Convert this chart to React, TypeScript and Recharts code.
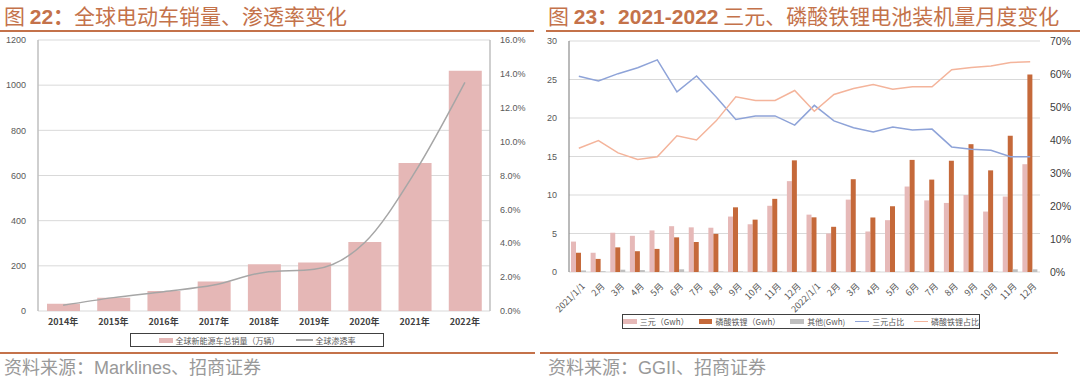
import React from 'react';
import { ComposedChart, Bar, Line, XAxis, YAxis, CartesianGrid } from 'recharts';

// ---- Chart 22 data ----
const years = ['2014年', '2015年', '2016年', '2017年', '2018年', '2019年', '2020年', '2021年', '2022年'];
const evSales = [32, 59, 89, 131, 207, 215, 305, 655, 1064];
const evPenetration = [0.34, 0.79, 1.14, 1.53, 2.28, 2.46, 4.03, 8.17, 13.5];
const leftTicks = [0, 200, 400, 600, 800, 1000, 1200];
const leftPctTicks = [0, 2, 4, 6, 8, 10, 12, 14, 16];

// ---- Chart 23 data ----
const months = [
  '2021/1/1', '2月', '3月', '4月', '5月', '6月', '7月', '8月', '9月', '10月', '11月', '12月',
  '2022/1/1', '2月', '3月', '4月', '5月', '6月', '7月', '8月', '9月', '10月', '11月', '12月',
];
const ncmGwh = [3.95, 2.5, 5.1, 4.7, 5.4, 5.95, 5.8, 5.75, 7.2, 6.2, 8.6, 11.8, 7.45, 5.0, 9.4, 5.26, 6.73, 11.1, 9.3, 8.97, 10.0, 7.85, 9.8, 14.0];
const lfpGwh = [2.5, 1.7, 3.2, 2.7, 3.0, 4.5, 3.9, 4.95, 8.4, 6.8, 9.5, 14.5, 7.1, 5.87, 12.05, 7.08, 8.54, 14.56, 12.0, 14.45, 16.6, 13.2, 17.7, 25.65];
const otherGwh = [0.2, 0.1, 0.3, 0.25, 0.1, 0.35, 0.05, 0.05, 0.05, 0.05, 0.05, 0.05, 0.05, 0.03, 0.1, 0.03, 0.03, 0.1, 0.05, 0.05, 0.05, 0.05, 0.35, 0.35];
const ncmShare = [59.3, 57.9, 60.1, 61.9, 64.3, 54.6, 59.4, 53.0, 46.2, 47.3, 47.3, 44.5, 50.5, 45.8, 43.7, 42.4, 43.9, 43.0, 43.3, 37.9, 37.2, 36.9, 34.9, 34.9];
const lfpShare = [37.5, 39.8, 36.1, 34.1, 34.9, 41.3, 40.0, 45.8, 53.1, 52.0, 52.0, 55.0, 48.7, 53.8, 55.6, 56.8, 55.4, 56.1, 56.1, 61.3, 62.0, 62.4, 63.5, 63.7];
const rightTicks = [0, 5, 10, 15, 20, 25, 30];
const rightPctTicks = [0, 10, 20, 30, 40, 50, 60, 70];

const data22 = years.map((y, i) => ({ year: y, sales: evSales[i], pen: evPenetration[i] }));
const data23 = months.map((m, i) => ({
  month: m,
  ncm: ncmGwh[i],
  lfp: lfpGwh[i],
  other: otherGwh[i],
  ncmS: ncmShare[i],
  lfpS: lfpShare[i],
}));

const TITLE = '#c4724a';
const FONT = '"Liberation Sans", "Noto Sans CJK SC", sans-serif';
const CJK = '"Noto Sans CJK SC", "Liberation Sans", sans-serif';

const RotTick = (props: any) => {
  const { x, y, payload } = props;
  return (
    <g transform={`translate(${x + 4},${y + 4})`}>
      <text x={0} y={0} dy={4} textAnchor="end" transform="rotate(-45)" fontSize={9} fill="#595959" fontFamily={CJK}>
        {payload.value}
      </text>
    </g>
  );
};

const LegendRect = ({ color, w = 17, h = 5 }: { color: string; w?: number; h?: number }) => (
  <span style={{ display: 'inline-block', width: w, height: h, background: color, marginRight: 3 }} />
);
const LegendLine = ({ color, w = 17 }: { color: string; w?: number }) => (
  <span style={{ display: 'inline-block', width: w, height: 1.5, background: color, marginRight: 3 }} />
);

export default function App() {
  return (
    <div style={{ position: 'absolute', left: 0, top: 0, width: 1080, height: 379, background: '#fff', overflow: 'hidden', fontFamily: CJK }}>
      {/* Titles */}
      <div style={{ position: 'absolute', left: 4, top: 3, fontSize: 21, color: TITLE, whiteSpace: 'nowrap', lineHeight: '25px' }}>
        图 <b style={{ fontFamily: FONT }}>22</b><b>：</b>全球电动车销量、渗透率变化
      </div>
      <div style={{ position: 'absolute', left: 548, top: 3, fontSize: 21, color: TITLE, whiteSpace: 'nowrap', lineHeight: '25px' }}>
        图 <b style={{ fontFamily: FONT }}>23</b><b>：</b><b style={{ fontFamily: FONT }}>2021-2022</b> 三元、磷酸铁锂电池装机量月度变化
      </div>
      <div style={{ position: 'absolute', left: 0, top: 30, width: 534, height: 1.5, background: TITLE }} />
      <div style={{ position: 'absolute', left: 546, top: 30, width: 534, height: 1.5, background: TITLE }} />

      {/* Chart 22 */}
      <div style={{ position: 'absolute', left: 0, top: 0 }}>
        <ComposedChart width={540} height={331} data={data22} margin={{ top: 40, right: 0, bottom: 0, left: 0 }} barCategoryGap="34%">
          <CartesianGrid yAxisId="l" vertical={false} stroke="#d9d9d9" />
          <XAxis xAxisId="b" type="number" domain={[0, 9]} ticks={[0, 1, 2, 3, 4, 5, 6, 7, 8, 9]} height={0}
            axisLine={{ stroke: '#595959', strokeWidth: 1.5 }} tickLine={{ stroke: '#595959' }} tickSize={4} tickFormatter={() => ''} />
          <XAxis xAxisId="a" dataKey="year" height={20} axisLine={false} tickLine={false} interval={0}
            tick={{ fontSize: 9, fill: '#404040', fontWeight: 'bold', fontFamily: CJK }} tickMargin={2} />
          <YAxis yAxisId="l" width={38} domain={[0, 1200]} ticks={leftTicks} axisLine={{ stroke: '#bfbfbf', strokeWidth: 1.5 }}
            tickLine={false} tick={{ fontSize: 9, fill: '#595959', fontFamily: FONT }} tickMargin={6} />
          <YAxis yAxisId="r" orientation="right" width={50} domain={[0, 16]} ticks={leftPctTicks}
            axisLine={{ stroke: '#bfbfbf', strokeWidth: 1.5 }} tickLine={false}
            tickFormatter={(v: number) => v.toFixed(1) + '%'} tick={{ fontSize: 9, fill: '#595959', fontFamily: FONT }} tickMargin={4} />
          <Bar xAxisId="a" yAxisId="l" dataKey="sales" fill="#e5b7b6" barSize={33} isAnimationActive={false} />
          <Line xAxisId="a" yAxisId="r" dataKey="pen" type="monotone" stroke="#a6a6a6" strokeWidth={1.5} dot={false} isAnimationActive={false} />
        </ComposedChart>
      </div>
      {/* Legend 22 */}
      <div style={{ position: 'absolute', left: 130, top: 333, width: 254, height: 14, boxSizing: 'border-box', border: '1px solid #404040',
        display: 'flex', alignItems: 'center', justifyContent: 'center', fontSize: 8, color: '#595959', whiteSpace: 'nowrap' }}>
        <LegendRect color="#e5b7b6" w={14} />
        <span style={{ marginRight: 16 }}>全球新能源车总销量（万辆）</span>
        <LegendLine color="#a6a6a6" w={17} />
        <span>全球渗透率</span>
      </div>

      {/* Chart 23 */}
      <div style={{ position: 'absolute', left: 540, top: 0 }}>
        <ComposedChart width={540} height={330} data={data23} margin={{ top: 41, right: 0, bottom: 0, left: 0 }} barCategoryGap="24%" barGap={0}
          style={{ overflow: 'visible' }}>
          <CartesianGrid yAxisId="l" vertical={false} stroke="#d9d9d9" />
          <XAxis xAxisId="b" type="number" domain={[0, 24]} ticks={Array.from({ length: 25 }, (_, i) => i)} height={0}
            axisLine={{ stroke: '#595959', strokeWidth: 1.2 }} tickLine={{ stroke: '#595959' }} tickSize={3} tickFormatter={() => ''} />
          <XAxis xAxisId="a" dataKey="month" height={58} axisLine={false} tickLine={false} interval={0} tick={<RotTick />} />
          <YAxis yAxisId="l" width={29} domain={[0, 30]} ticks={rightTicks} axisLine={{ stroke: '#8c8c8c', strokeWidth: 1.2 }}
            tickLine={false} tick={{ fontSize: 9, fill: '#595959', fontFamily: FONT }} tickMargin={6} />
          <YAxis yAxisId="r" orientation="right" width={40} domain={[0, 70]} ticks={rightPctTicks} axisLine={false} tickLine={false}
            tickFormatter={(v: number) => v + '%'} tick={{ fontSize: 10.5, fill: '#404040', fontFamily: FONT }} tickMargin={4} />
          <Bar xAxisId="a" yAxisId="l" dataKey="ncm" fill="#e6b9b8" barSize={5} isAnimationActive={false} />
          <Bar xAxisId="a" yAxisId="l" dataKey="lfp" fill="#c5693a" barSize={5} isAnimationActive={false} />
          <Bar xAxisId="a" yAxisId="l" dataKey="other" fill="#bfbfbf" barSize={5} isAnimationActive={false} />
          <Line xAxisId="a" yAxisId="r" dataKey="ncmS" type="linear" stroke="#8ea3d8" strokeWidth={1.5} dot={false} isAnimationActive={false} />
          <Line xAxisId="a" yAxisId="r" dataKey="lfpS" type="linear" stroke="#f4b49b" strokeWidth={1.5} dot={false} isAnimationActive={false} />
        </ComposedChart>
      </div>
      {/* Legend 23 */}
      <div style={{ position: 'absolute', left: 622, top: 314, width: 358, height: 15, boxSizing: 'border-box', border: '1px solid #404040',
        display: 'flex', alignItems: 'center', justifyContent: 'center', fontSize: 8, color: '#595959', whiteSpace: 'nowrap', background: '#fff' }}>
        <LegendRect color="#e6b9b8" />
        <span style={{ marginRight: 10 }}>三元（Gwh）</span>
        <LegendRect color="#c5693a" />
        <span style={{ marginRight: 10 }}>磷酸铁锂（Gwh）</span>
        <LegendRect color="#bfbfbf" />
        <span style={{ marginRight: 10 }}>其他(Gwh)</span>
        <LegendLine color="#8ea3d8" />
        <span style={{ marginRight: 10 }}>三元占比</span>
        <LegendLine color="#f4b49b" />
        <span>磷酸铁锂占比</span>
      </div>

      {/* Source lines */}
      <div style={{ position: 'absolute', left: 0, top: 352, width: 535, height: 1.5, background: TITLE }} />
      <div style={{ position: 'absolute', left: 540, top: 352, width: 518, height: 1.5, background: TITLE }} />
      <div style={{ position: 'absolute', left: 4, top: 355, fontSize: 18, color: '#999', whiteSpace: 'nowrap', lineHeight: '22px' }}>
        资料来源：<span style={{ fontFamily: FONT }}>Marklines</span>、招商证券
      </div>
      <div style={{ position: 'absolute', left: 548, top: 355, fontSize: 18, color: '#999', whiteSpace: 'nowrap', lineHeight: '22px' }}>
        资料来源：<span style={{ fontFamily: FONT }}>GGII</span>、招商证券
      </div>
    </div>
  );
}
